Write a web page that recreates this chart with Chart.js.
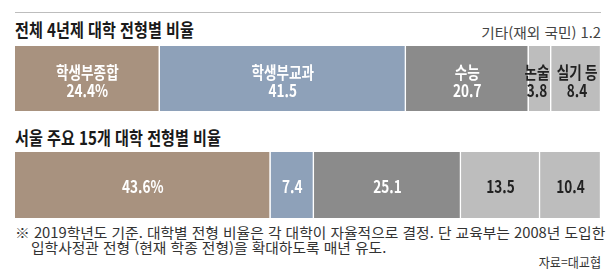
<!DOCTYPE html>
<html lang="ko">
<head>
<meta charset="utf-8">
<script src="https://cdn.jsdelivr.net/npm/chart.js@4"></script>
<style>
  html, body { margin: 0; padding: 0; background: #fff; }
  #page { position: relative; width: 616px; height: 278px; overflow: hidden;
          font-family: "Noto Sans CJK KR", "Noto Sans", sans-serif; color: #222; }
  .txt { position: absolute; white-space: nowrap; line-height: 1; }
  .title { left: 15px; font-size: 18px; font-weight: bold; color: #1a1a1a; transform: scaleX(0.84); transform-origin: left top; }
  .right { right: 15px; transform-origin: right top; }
  .note { font-size: 14px; color: #333; transform: scaleX(1.054); transform-origin: left top; }
  .box { position: absolute; left: 15px; width: 586px; }
  #rule { position: absolute; left: 15px; top: 12px; width: 586px; height: 1px; background: #bdbdbd; }
</style>
</head>
<body>
<div id="page">
  <div id="rule"></div>
  <div class="txt title" style="top:20px;">전체 4년제 대학 전형별 비율</div>
  <div class="txt right" style="top:25px; font-size:14px; color:#444; transform:scaleX(1.05);">기타(재외 국민) 1.2</div>
  <div class="box" style="top:46px; height:65px;"><canvas id="allChart"></canvas></div>
  <div class="txt title" style="top:128px;">서울 주요 15개 대학 전형별 비율</div>
  <div class="box" style="top:152px; height:66px;"><canvas id="seoulChart"></canvas></div>
  <div class="txt note" style="left:15px; top:225px;">※ 2019학년도 기준. 대학별 전형 비율은 각 대학이 자율적으로 결정. 단 교육부는 2008년 도입한</div>
  <div class="txt note" style="left:31px; top:240px;">입학사정관 전형 (현재 학종 전형)을 확대하도록 매년 유도.</div>
  <div class="txt right" style="top:255px; font-size:13px; color:#333; transform:scaleX(0.93);">자료=대교협</div>
</div>
<script>
// 전체 4년제 (기타 1.2 is only annotated, not drawn)
const allCategories = ['학생부종합', '학생부교과', '수능', '논술', '실기 등'];
const allValues = [24.4, 41.5, 20.7, 3.8, 8.4];
const allLabels = ['24.4%', '41.5', '20.7', '3.8', '8.4'];

// 서울 주요 15개 대학
const seoulCategories = ['학생부종합', '학생부교과', '수능', '논술', '실기 등'];
const seoulValues = [43.6, 7.4, 25.1, 13.5, 10.4];
const seoulLabels = ['43.6%', '7.4', '25.1', '13.5', '10.4'];

const segmentColors = ['#a8927f', '#8ea1b9', '#8b8b8b', '#bdbdbd', '#bdbdbd'];
const textColors = ['#fff', '#fff', '#fff', '#222', '#222'];

const labelPlugin = {
    id: 'segmentLabels',
    afterDatasetsDraw(chart, args, opts) {
        const { ctx } = chart;
        chart.data.datasets.forEach((ds, i) => {
            const el = chart.getDatasetMeta(i).data[0];
            if (!el) return;
            // narrow segments: keep neighbouring labels apart
            const cx = (el.x + el.base) / 2 + (opts.nudge ? opts.nudge[i] : 0);
            const cy = el.y;
            const lines = opts.showNames ? [ds.label, opts.texts[i]] : [opts.texts[i]];
            const offsets = opts.showNames ? [0, 18] : [8];
            ctx.save();
            ctx.fillStyle = textColors[i];
            ctx.font = 'bold 17px "Noto Sans CJK KR", sans-serif';
            ctx.textAlign = 'center';
            ctx.textBaseline = 'alphabetic';
            lines.forEach((line, k) => {
                ctx.save();
                ctx.translate(cx, cy + offsets[k]);
                ctx.scale(opts.squeeze, 1);
                ctx.fillText(line, 0, 0);
                ctx.restore();
            });
            ctx.restore();
        });
    },
};

const makeChart = (id, categories, values, texts, showNames, nudge) => {
    const total = values.reduce((a, b) => a + b, 0);
    return new Chart(document.getElementById(id), {
        type: 'bar',
        data: {
            labels: [''],
            datasets: categories.map((name, i) => ({
                label: name,
                data: [values[i]],
                backgroundColor: segmentColors[i],
                borderColor: '#fff',
                borderWidth: { top: 0, bottom: 0, left: 0, right: 1.5 },
                borderSkipped: false,
                barPercentage: 1,
                categoryPercentage: 1,
            })),
        },
        options: {
            indexAxis: 'y',
            responsive: true,
            maintainAspectRatio: false,
            animation: false,
            layout: { padding: 0 },
            plugins: {
                legend: { display: false },
                tooltip: { enabled: false },
                segmentLabels: { texts, showNames, nudge, squeeze: 0.8 },
            },
            scales: {
                x: { stacked: true, display: false, min: 0, max: total },
                y: { stacked: true, display: false },
            },
        },
        plugins: [labelPlugin],
    });
};

makeChart('allChart', allCategories, allValues, allLabels, true, [0, 0, 0, -3, 1]);
makeChart('seoulChart', seoulCategories, seoulValues, seoulLabels, false);
</script>
</body>
</html>
